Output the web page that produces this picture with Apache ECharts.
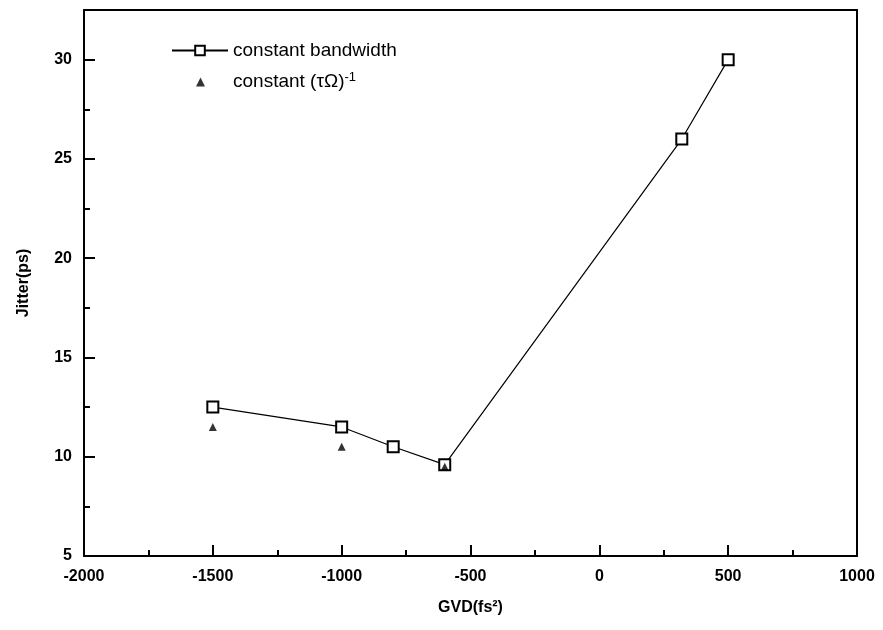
<!DOCTYPE html>
<html>
<head>
<meta charset="utf-8">
<script src="https://cdn.jsdelivr.net/npm/echarts@6/dist/echarts.min.js"></script>
<style>
  html, body { margin: 0; padding: 0; background: #fff; }
  #chart { width: 883px; height: 630px; }
</style>
</head>
<body>
<div id="chart"></div>
<script>
const gvdBandwidth = [-1500, -1000, -800, -600, 320, 500];
const jitterBandwidth = [12.5, 11.5, 10.5, 9.6, 26, 30];
const gvdTauOmega = [-1500, -1000, -600];
const jitterTauOmega = [11.5, 10.5, 9.5];

const font = 'Liberation Sans, Arial, sans-serif';
const chart = echarts.init(document.getElementById('chart'));

const axisBase = {
  axisLine: { show: true, onZero: false, lineStyle: { color: '#000', width: 2 } },
  axisTick: { show: true, inside: true, length: 11, lineStyle: { color: '#000', width: 2 } },
  minorTick: { show: true, splitNumber: 2, length: 6, lineStyle: { color: '#000', width: 2 } },
  splitLine: { show: false },
  axisLabel: { color: '#000', fontFamily: font, fontWeight: 'bold', fontSize: 16, formatter: v => String(v) },
  nameTextStyle: { color: '#000', fontFamily: font, fontWeight: 'bold', fontSize: 16 }
};

const frameAxis = {
  type: 'value',
  axisLine: { show: true, onZero: false, lineStyle: { color: '#000', width: 2 } },
  axisTick: { show: false }, axisLabel: { show: false }, splitLine: { show: false }
};

const legendText = {
  color: '#000', fontFamily: font, fontSize: 19,
  rich: { sup: { fontSize: 13, verticalAlign: 'top', padding: [0, 0, 9, 0], fontFamily: font } }
};

chart.setOption({
  backgroundColor: '#fff',
  animation: false,
  grid: { left: 84, right: 26, top: 10, bottom: 74 },
  legend: [
    {
      left: 166, top: 36,
      itemWidth: 56, itemHeight: 12,
      textStyle: legendText,
      data: ['constant bandwidth']
    },
    {
      left: 191, top: 66,
      itemWidth: 9, itemHeight: 9,
      textStyle: Object.assign({}, legendText, { padding: [0, 0, 0, 23] }),
      data: [{ name: 'constant (τΩ)', icon: 'triangle', itemStyle: { color: '#000' } }],
      formatter: () => 'constant (τΩ){sup|-1}'
    }
  ],
  xAxis: [
    Object.assign({}, axisBase, {
      type: 'value', min: -2000, max: 1000, interval: 500,
      name: 'GVD(fs²)', nameLocation: 'middle', nameGap: 44,
      axisLabel: Object.assign({}, axisBase.axisLabel, { margin: 13 })
    }),
    Object.assign({}, frameAxis, { position: 'top', min: -2000, max: 1000 })
  ],
  yAxis: [
    Object.assign({}, axisBase, {
      type: 'value', min: 5, max: 32.5, interval: 5,
      name: 'Jitter(ps)', nameLocation: 'middle', nameGap: 52,
      axisLabel: Object.assign({}, axisBase.axisLabel, {
        margin: 12,
        formatter: v => (v % 5 === 0 ? String(v) : '')
      })
    }),
    Object.assign({}, frameAxis, { position: 'right', min: 5, max: 32.5 })
  ],
  series: [
    {
      name: 'constant bandwidth',
      type: 'line',
      data: gvdBandwidth.map((x, i) => [x, jitterBandwidth[i]]),
      symbol: 'rect',
      symbolSize: 11,
      lineStyle: { color: '#000', width: 1.2 },
      itemStyle: { color: '#fff', borderColor: '#000', borderWidth: 2 },
      z: 3
    },
    {
      name: 'constant (τΩ)',
      type: 'scatter',
      data: gvdTauOmega.map((x, i) => [x, jitterTauOmega[i]]),
      symbol: 'triangle',
      symbolSize: 8,
      itemStyle: { color: '#000' },
      z: 4
    }
  ]
});
</script>
</body>
</html>
